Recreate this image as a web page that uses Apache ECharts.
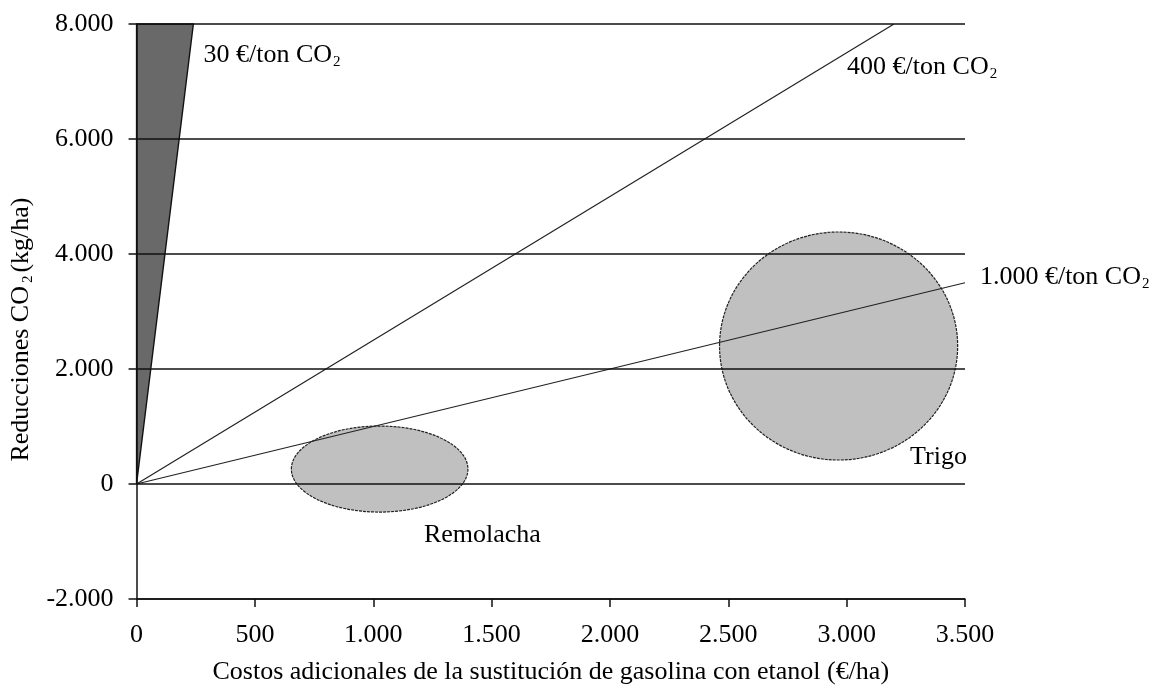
<!DOCTYPE html>
<html>
<head>
<meta charset="utf-8">
<script src="https://cdn.jsdelivr.net/npm/echarts@6/dist/echarts.min.js"></script>
<style>html,body{margin:0;padding:0;background:#fff}#c{width:1156px;height:692px}</style>
</head>
<body>
<div id="c"></div>
<script>
// Price lines in (€/ha, kg/ha)
const line400 = [[0, 0], [3200, 8000]];
const line1000 = [[0, 0], [3500, 3500]];
// 30 €/ton wedge polygon
const wedge30 = [[0, 0], [240, 8000], [0, 8000]];
// Ellipses: [centerX, centerY, radiusX, radiusY]
const cropEllipses = [[1027, 260, 373, 748], [2966, 2400, 503, 1983]];
// Text labels: anchor x, anchor y, text
const labelX = [283, 3002, 3563, 1214, 3268];
const labelY = [7461, 7252, 3600, -887, 470];
const labelText = ['30 €/ton CO{sub|2}', '400 €/ton CO{sub|2}', '1.000 €/ton CO{sub|2}', 'Remolacha', 'Trigo'];
const xTicks = [0, 500, 1000, 1500, 2000, 2500, 3000, 3500];
const yTicks = [-2000, 0, 2000, 4000, 6000, 8000];

const FONT = '"Liberation Serif", "Times New Roman", serif';
const FS = 26;
function fmt(v) {
  const s = Math.abs(v).toString().replace(/\B(?=(\d{3})+(?!\d))/g, '.');
  return (v < 0 ? '-' : '') + s;
}
const rich = {
  sub: { fontFamily: FONT, fontSize: 15, color: '#000', padding: [14, 0, 0, 1] }
};

const chart = echarts.init(document.getElementById('c'));
chart.setOption({
  animation: false,
  backgroundColor: '#fff',
  textStyle: { fontFamily: FONT },
  grid: { left: 135, right: 191, top: 24, bottom: 93, containLabel: false },
  xAxis: {
    type: 'value', min: xTicks[0], max: xTicks[xTicks.length - 1], interval: 500,
    axisLine: { onZero: false, lineStyle: { color: '#111', width: 1.5 } },
    axisTick: { show: true, length: 8, lineStyle: { color: '#111', width: 1.5 } },
    axisLabel: { formatter: fmt, fontFamily: FONT, fontSize: FS, color: '#000', margin: 23 },
    splitLine: { show: false },
    name: 'Costos adicionales de la sustitución de gasolina con etanol (€/ha)',
    nameLocation: 'middle', nameGap: 60,
    nameTextStyle: { fontFamily: FONT, fontSize: FS, color: '#000' }
  },
  yAxis: {
    type: 'value', min: yTicks[0], max: yTicks[yTicks.length - 1], interval: 2000,
    z: 5,
    axisLine: { show: true, onZero: false, lineStyle: { color: '#111', width: 1.5 } },
    axisTick: { show: true, length: 8, lineStyle: { color: '#111', width: 1.5 } },
    axisLabel: { formatter: fmt, fontFamily: FONT, fontSize: FS, color: '#000', margin: 23 },
    splitLine: { show: true, lineStyle: { color: '#111', width: 1.5 } },
    name: '{n|Reducciones CO}{ns|2}{n|(kg/ha)}',
    nameLocation: 'middle', nameGap: 99,
    nameTextStyle: {
      padding: [0, 36, 0, 0],
      rich: {
        n: { fontFamily: FONT, fontSize: FS, color: '#000' },
        ns: { fontFamily: FONT, fontSize: 15, color: '#000', padding: [14, 3, 0, 3] }
      }
    }
  },
  series: [
    {
      type: 'custom', z: 1, silent: true,
      data: cropEllipses,
      renderItem: function (params, api) {
        const c = api.coord([api.value(0), api.value(1)]);
        const sz = api.size([api.value(2), api.value(3)]);
        return {
          type: 'ellipse',
          shape: { cx: c[0], cy: c[1], rx: sz[0], ry: sz[1] },
          style: { fill: '#c0c0c0', stroke: '#222', lineWidth: 1.2, lineDash: [3, 1] }
        };
      }
    },
    {
      type: 'custom', z: 2, silent: true,
      data: [0],
      renderItem: function (params, api) {
        const pts = wedge30.map(p => api.coord(p));
        return {
          type: 'polygon',
          shape: { points: pts },
          style: { fill: '#696969', stroke: '#111', lineWidth: 1.4 }
        };
      }
    },
    {
      type: 'line', data: line400, symbol: 'none', silent: true, z: 3,
      lineStyle: { color: '#222', width: 1.2 }
    },
    {
      type: 'line', data: line1000, symbol: 'none', silent: true, z: 3,
      lineStyle: { color: '#222', width: 1.2 }
    },
    {
      type: 'scatter', symbolSize: 0, silent: true, z: 6, clip: false,
      itemStyle: { opacity: 1 },
      data: labelX.map((x, i) => ({ value: [x, labelY[i]], label: { formatter: labelText[i] } })),
      label: {
        show: true, position: 'right', distance: 0,
        fontFamily: FONT, fontSize: FS, color: '#000',
        rich: rich
      }
    }
  ]
});
</script>
</body>
</html>
